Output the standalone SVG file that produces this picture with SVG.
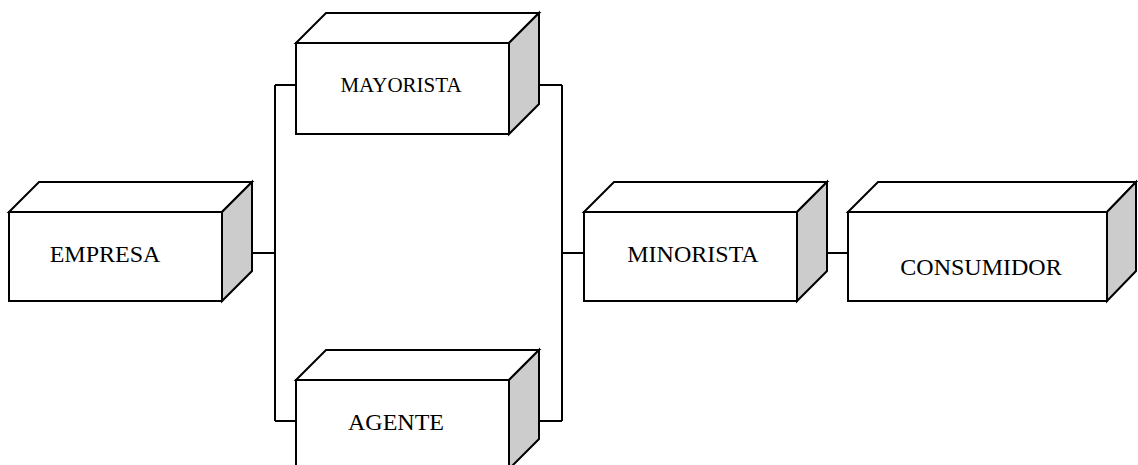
<svg xmlns="http://www.w3.org/2000/svg" width="1138" height="465" viewBox="0 0 1138 465">
<style>
.face{fill:#ffffff;stroke:#000;stroke-width:2;stroke-linejoin:miter}
.side{fill:#cccccc;stroke:#000;stroke-width:2}
.lbl{font-family:"Liberation Serif","Times New Roman",serif;font-size:24px;fill:#000;text-anchor:middle}
.conn{fill:none;stroke:#000;stroke-width:2}
</style>
<rect width="1138" height="465" fill="#ffffff"/>
<g id="connectors">
<path class="conn" d="M252,253H275M275,85V421M275,85H296M275,421H296M539,85H562M539,421H562M562,85V421M562,253H584M827,253H848"/>
</g>
<g id="empresa">
<polygon class="face" points="9,212 39,182 252,182 222,212"/>
<polygon class="side" points="222,212 252,182 252,271 222,301"/>
<rect class="face" x="9" y="212" width="213" height="89"/>
<text class="lbl" x="105" y="262">EMPRESA</text>
</g>
<g id="mayorista">
<polygon class="face" points="296,43 326,13 539,13 509,43"/>
<polygon class="side" points="509,43 539,13 539,104 509,134"/>
<rect class="face" x="296" y="43" width="213" height="91"/>
<text class="lbl" x="401" y="92" style="font-size:21px">MAYORISTA</text>
</g>
<g id="agente">
<polygon class="face" points="296,380 326,350 539,350 509,380"/>
<polygon class="side" points="509,380 539,350 539,439 509,469"/>
<rect class="face" x="296" y="380" width="213" height="89"/>
<text class="lbl" x="396" y="430">AGENTE</text>
</g>
<g id="minorista">
<polygon class="face" points="584,212 614,182 827,182 797,212"/>
<polygon class="side" points="797,212 827,182 827,271 797,301"/>
<rect class="face" x="584" y="212" width="213" height="89"/>
<text class="lbl" x="693" y="262">MINORISTA</text>
</g>
<g id="consumidor">
<polygon class="face" points="848,212 878,182 1136,182 1107,212"/>
<polygon class="side" points="1107,212 1136,182 1136,271 1107,301"/>
<rect class="face" x="848" y="212" width="259" height="89"/>
<text class="lbl" x="981" y="275">CONSUMIDOR</text>
</g>
</svg>
